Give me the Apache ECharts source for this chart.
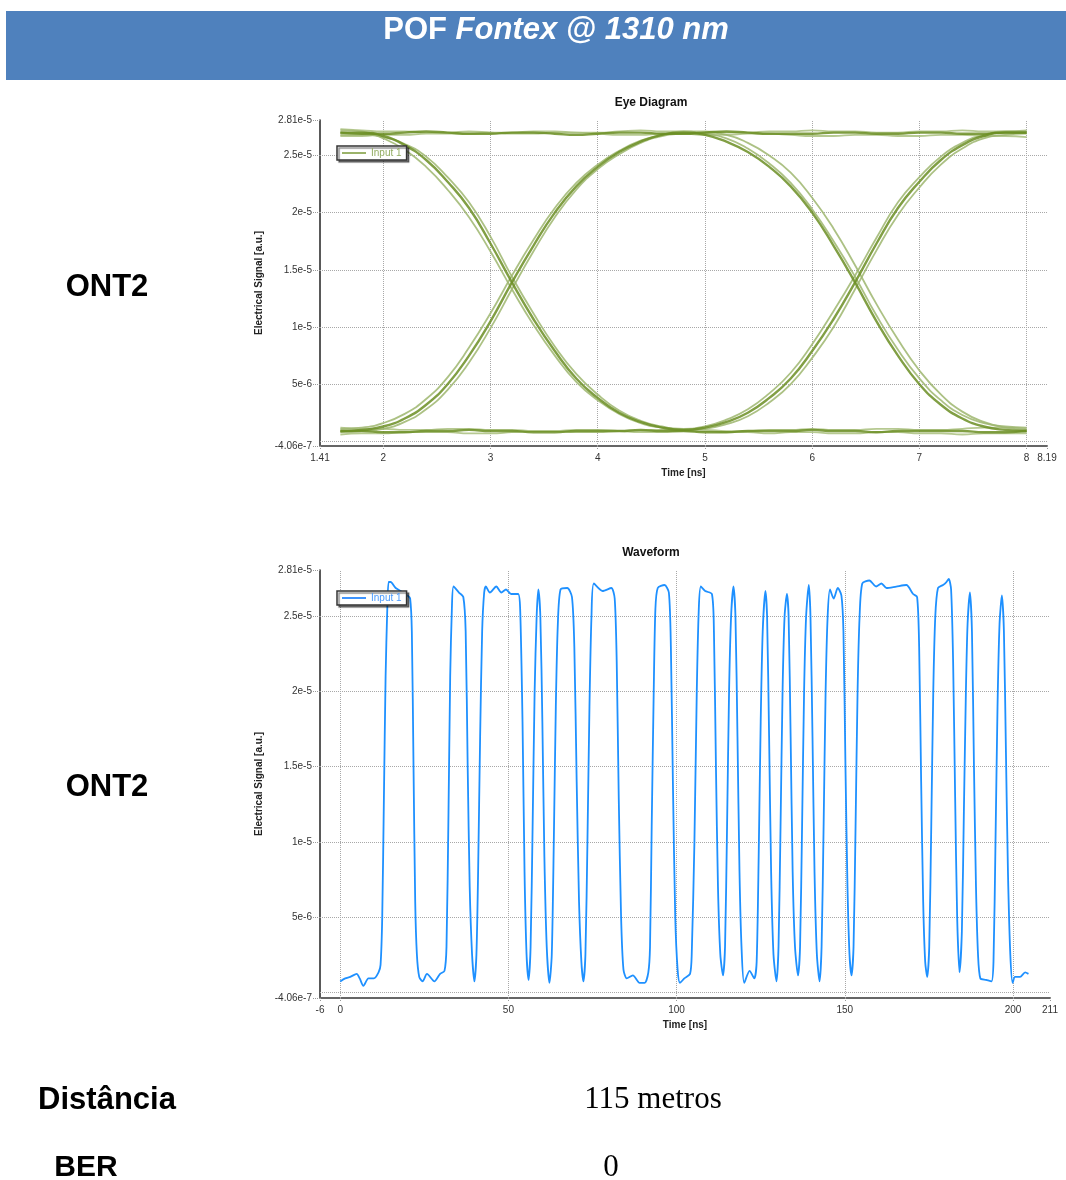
<!DOCTYPE html>
<html><head><meta charset="utf-8">
<script src="https://cdn.jsdelivr.net/npm/echarts@6/dist/echarts.min.js"></script>
<style>html,body{margin:0;padding:0;background:#fff;}#c{width:1066px;height:1180px;}</style>
</head><body><div id="c"></div>
<script>
// ---------- values (signal in units of 1e-6 a.u.) ----------
const eyeTime = [1.6,1.8,2.0,2.2,2.4,2.6,2.8,3.0,3.2,3.4,3.6,3.8,4.0,4.2,4.4,4.6,4.8,5.0,5.2,5.4,5.6,5.8,6.0,6.2,6.4,6.6,6.8,7.0,7.2,7.4,7.6,7.8,8.0];
const eyeHighA = [27.0,26.9,26.9,27.0,27.1,27.0,26.9,26.9,27.0,27.0,26.9,26.8,26.9,27.0,27.0,26.9,26.9,27.0,27.1,27.0,26.9,26.9,26.9,27.0,27.0,26.9,26.9,27.0,27.0,26.9,26.9,27.0,27.0];
const eyeHighB = [27.3,27.2,27.1,27.1,27.0,27.0,27.1,27.0,26.9,26.9,27.0,27.0,26.9,26.8,26.8,26.9,26.9,26.8,26.8,26.9,26.9,26.8,26.7,26.7,26.8,26.8,26.7,26.7,26.8,26.8,26.7,26.7,26.6];
const eyeHighC = [26.7,26.7,26.8,26.8,26.9,26.9,26.9,27.0,27.0,27.1,27.1,27.0,27.0,27.1,27.2,27.1,27.1,27.1,27.0,27.0,27.1,27.1,27.2,27.1,27.1,27.0,27.0,27.1,27.1,27.2,27.1,27.1,27.2];
const eyeLowA = [0.9,0.9,0.8,0.8,0.9,0.9,1.0,0.9,0.9,0.8,0.8,0.9,0.9,0.9,1.0,0.9,0.9,0.8,0.8,0.9,0.9,0.9,1.0,0.9,0.9,0.8,0.9,0.9,0.9,0.9,0.8,0.8,0.9];
const eyeLowB = [0.6,0.7,0.7,0.8,0.8,0.8,0.7,0.7,0.8,0.9,0.9,0.8,0.8,0.9,0.9,1.0,1.0,1.0,0.9,0.9,1.0,1.0,1.1,1.0,1.0,1.1,1.1,1.0,1.0,1.1,1.2,1.2,1.1];
const eyeLowC = [1.2,1.1,1.1,1.0,1.0,1.1,1.1,1.0,1.0,0.9,0.9,1.0,1.0,0.9,0.8,0.8,0.9,0.9,0.8,0.8,0.7,0.8,0.8,0.7,0.7,0.8,0.8,0.7,0.7,0.6,0.7,0.7,0.7];
const eyeFallRiseA = [27.0,27.0,26.7,25.9,24.6,22.7,20.4,17.3,13.9,10.7,7.9,5.5,3.8,2.5,1.7,1.2,1.0,1.2,1.7,2.5,3.8,5.5,7.9,10.7,13.9,17.3,20.4,22.7,24.6,25.9,26.7,27.0,27.0];
const eyeFallRiseB = [27.2,27.1,26.5,25.5,24.0,22.0,19.6,16.6,13.3,10.2,7.5,5.2,3.6,2.4,1.6,1.2,1.1,1.3,1.9,2.8,4.2,6.0,8.5,11.4,14.5,17.8,20.9,23.1,24.9,26.1,26.8,27.1,27.1];
const eyeFallRiseC = [26.8,26.8,26.6,26.0,24.9,23.1,20.9,17.9,14.4,11.2,8.3,5.9,4.1,2.7,1.8,1.3,1.0,1.1,1.5,2.2,3.4,5.0,7.3,10.0,13.3,16.7,19.8,22.2,24.2,25.6,26.5,26.8,26.9];
const eyeRiseFallA = [0.9,1.0,1.3,2.0,3.2,5.0,7.5,10.5,13.9,17.1,20.0,22.3,24.0,25.3,26.2,26.8,27.0,26.8,26.2,25.3,24.0,22.3,20.0,17.1,13.9,10.5,7.5,5.0,3.2,2.0,1.3,1.0,0.9];
const eyeRiseFallB = [1.1,1.2,1.6,2.4,3.7,5.6,8.2,11.2,14.5,17.6,20.4,22.6,24.2,25.4,26.3,26.8,27.1,26.9,26.5,25.6,24.3,22.6,20.3,17.5,14.4,11.0,8.0,5.5,3.6,2.3,1.6,1.3,1.2];
const eyeRiseFallC = [0.8,0.9,1.1,1.7,2.8,4.5,6.9,9.9,13.3,16.6,19.6,22.0,23.8,25.1,26.1,26.7,26.9,27.0,26.8,26.1,25.0,23.5,21.3,18.6,15.4,12.0,8.9,6.2,4.1,2.6,1.7,1.2,1.0];

// waveform: [time ns, signal 1e-6 a.u.]
const wavePoints = [
[0.0,0.7],[1.5,0.9],[3.0,1.0],[4.9,1.2],[5.8,0.9],[6.9,0.4],[8.4,0.9],[10.0,0.9],[11.4,1.3],[12.0,1.8],[12.5,5],[13.0,13],[13.5,21],[14.0,25.5],[14.4,27.3],
[15.0,27.3],[16.5,26.9],[18.0,26.7],[20.0,26.4],[20.8,26.2],[21.3,24],[21.8,15],[22.3,6],[22.8,2.5],[23.5,1.0],[24.5,0.7],[25.8,1.2],[28.0,0.7],[29.7,1.2],[31.0,1.4],
[31.6,3],[32.2,12],[32.7,21],[33.2,25.5],[33.7,27.0],[35.3,26.6],[36.6,26.3],[37.3,24],[37.9,15],[38.5,7],[39.2,2.5],[39.9,0.7],
[40.5,2.5],[41.0,8],[41.6,17],[42.2,24],[42.8,26.6],[43.3,27.0],[44.5,26.6],[46.4,27.0],[47.9,26.6],[49.3,26.8],[50.8,26.5],[52.9,26.5],
[53.5,25.5],[54.2,18],[54.8,8],[55.4,2.5],[56.0,0.8],[56.6,3],[57.2,11],[57.8,20],[58.4,25],[58.9,26.8],[59.5,25],[60.1,18],[60.7,9],[61.4,3],[62.2,0.6],
[62.9,2.5],[63.5,10],[64.1,19],[64.7,24.5],[65.5,26.8],[67.5,26.9],[68.9,26.3],[69.6,23],[70.3,14],[71.0,6],[71.7,2],[72.3,0.7],
[72.9,2.5],[73.5,10],[74.1,19],[74.7,25],[75.4,27.2],[78.0,26.7],[80.6,26.9],[81.6,26.2],[82.2,22],[82.8,13],[83.5,5],[84.2,1.5],[85.2,0.9],[87.0,1.1],[89.0,0.6],[90.5,0.6],[91.6,1.3],
[92.1,3],[92.6,11],[93.2,20],[93.7,25.5],[94.4,26.9],[96.4,27.1],[97.7,26.6],[98.3,23],[98.9,14],[99.6,5],[100.3,1.5],[101.0,0.6],[102.3,0.9],[104.0,1.2],
[104.5,2.5],[105.3,10],[106.0,20],[106.6,25.5],[107.2,27.0],[108.5,26.7],[110.5,26.5],[111.1,24],[111.7,15],[112.3,7],[113.0,2.5],[113.8,1.1],
[114.4,3],[115.0,11],[115.6,20],[116.2,25],[116.9,27.0],[117.5,25],[118.1,17],[118.7,8],[119.3,3],[120.1,0.6],[121.7,1.4],[123.1,0.9],
[123.8,2],[124.4,9],[125.0,18],[125.6,24],[126.4,26.7],[126.9,25],[127.5,17],[128.1,8],[128.8,2.5],[129.7,0.7],
[130.3,3],[130.9,11],[131.5,20],[132.1,25],[132.8,26.5],[133.3,25],[133.9,17],[134.5,8],[135.2,3],[136.1,1.1],
[136.7,3],[137.3,11],[137.9,20],[138.5,25],[139.3,27.1],[139.8,25],[140.4,17],[141.0,8],[141.7,2.5],[142.5,0.7],
[143.1,3],[143.7,11],[144.3,20],[144.9,25],[145.6,26.8],[146.7,26.2],[147.9,26.9],[149.0,26.4],[149.6,24],[150.2,15],[150.8,7],[151.4,2.5],[152.0,1.1],
[152.6,3],[153.2,11],[153.8,20],[154.4,25],[155.2,27.2],[157.3,27.4],[159.3,27.0],[160.9,27.2],[162.4,26.9],[165.3,27.0],[168.3,27.1],[170.3,26.5],[171.5,26.3],
[172.1,23],[172.7,14],[173.3,6],[173.9,2],[174.5,1.0],[175.1,3],[175.7,11],[176.3,20],[176.9,25],[177.7,26.9],[179.2,27.1],[180.2,27.3],[180.9,27.5],
[181.6,26.8],[182.2,22],[182.8,13],[183.4,5],[184.1,1.3],[184.8,4],[185.4,12],[186.0,20],[186.5,24.5],[187.2,26.6],
[187.8,24],[188.4,15],[189.0,7],[189.6,2.5],[190.3,0.9],[192.0,0.8],[193.6,0.7],[194.2,2],[194.8,10],[195.4,19],[196.0,24.5],[196.7,26.4],
[197.3,24],[197.9,16],[198.5,8],[199.2,2.5],[199.9,0.6],[200.6,1.0],[202.1,1.0],[203.6,1.3],[204.6,1.2]
];

// axis ticks
const yTickVals = [-0.406, 5, 10, 15, 20, 25, 28.1];
const yTickLabels = ['-4.06e-7', '5e-6', '1e-5', '1.5e-5', '2e-5', '2.5e-5', '2.81e-5'];
const yGridVals = [0, 5, 10, 15, 20, 25];
const eyeXTickVals = [1.41, 2, 3, 4, 5, 6, 7, 8, 8.19];
const eyeXTickLabels = ['1.41', '2', '3', '4', '5', '6', '7', '8', '8.19'];
const eyeXGridVals = [2, 3, 4, 5, 6, 7, 8];
const waveXTickVals = [-6, 0, 50, 100, 150, 200, 211];
const waveXTickLabels = ['-6', '0', '50', '100', '150', '200', '211'];
const waveXGridVals = [0, 50, 100, 150, 200];

// ---------- chart ----------
const SANS = '"Liberation Sans", Arial, Helvetica, sans-serif';
const SERIF = '"Liberation Serif", "Times New Roman", serif';
const chart = echarts.init(document.getElementById('c'), null, {renderer: 'canvas'});

function lookup(vals, labels) {
  return function (v) {
    for (let i = 0; i < vals.length; i++) if (Math.abs(vals[i] - v) < 1e-6) return labels[i];
    return '';
  };
}
function xAxisCfg(gi, min, max, vals, labels) {
  return {
    type: 'value', gridIndex: gi, min: min, max: max,
    name: 'Time [ns]', nameLocation: 'middle', nameGap: 22,
    nameTextStyle: {fontFamily: SANS, fontSize: 10, fontWeight: 'bold', color: '#222'},
    axisLine: {show: true, onZero: false, lineStyle: {color: '#666', width: 2}},
    axisTick: {show: true, customValues: vals, length: 4, lineStyle: {color: '#999', type: 'dotted'}},
    axisLabel: {customValues: vals, formatter: lookup(vals, labels), fontFamily: SANS, fontSize: 10, color: '#333', margin: 7},
    splitLine: {show: false}
  };
}
function yAxisCfg(gi) {
  return {
    type: 'value', gridIndex: gi, min: yTickVals[0], max: yTickVals[yTickVals.length - 1],
    name: 'Electrical Signal [a.u.]', nameLocation: 'middle', nameGap: 55, nameRotate: 90,
    nameTextStyle: {fontFamily: SANS, fontSize: 10, fontWeight: 'bold', color: '#222'},
    axisLine: {show: true, onZero: false, lineStyle: {color: '#222', width: 1.5}},
    axisTick: {show: true, customValues: yTickVals, length: 7, lineStyle: {color: '#999', type: 'dotted'}},
    axisLabel: {customValues: yTickVals, formatter: lookup(yTickVals, yTickLabels), fontFamily: SANS, fontSize: 10, color: '#333', margin: 8},
    splitLine: {show: false}
  };
}
function gridLines(xi, yi, xVals) {
  return {
    type: 'line', xAxisIndex: xi, yAxisIndex: yi, data: [], silent: true, z: 1,
    markLine: {
      silent: true, symbol: 'none', z: 1, animation: false,
      label: {show: false},
      lineStyle: {color: '#a8a8a8', type: 'dotted', width: 1},
      data: yGridVals.map(v => ({yAxis: v})).concat(xVals.map(v => ({xAxis: v})))
    }
  };
}

const eyeTraces = [
  {d: eyeHighB, c: '#a9c07e', w: 1.8}, {d: eyeHighC, c: '#a9c07e', w: 1.8},
  {d: eyeLowB, c: '#a9c07e', w: 1.8}, {d: eyeLowC, c: '#a9c07e', w: 1.8},
  {d: eyeFallRiseB, c: '#9db66e', w: 1.8}, {d: eyeFallRiseC, c: '#9db66e', w: 1.8},
  {d: eyeRiseFallB, c: '#9db66e', w: 1.8}, {d: eyeRiseFallC, c: '#9db66e', w: 1.8},
  {d: eyeHighA, c: '#6b8e23', w: 2.4}, {d: eyeLowA, c: '#6b8e23', w: 2.4},
  {d: eyeFallRiseA, c: '#6b8e23', w: 2.4}, {d: eyeRiseFallA, c: '#6b8e23', w: 2.4}
];

const series = [gridLines(0, 0, eyeXGridVals), gridLines(1, 1, waveXGridVals)];
eyeTraces.forEach(function (t, i) {
  series.push({
    name: 'Input 1', type: 'line', xAxisIndex: 0, yAxisIndex: 0, z: 3,
    data: eyeTime.map((x, k) => [x, t.d[k]]),
    symbol: 'none', smooth: 0.5, color: '#6b8e23',
    lineStyle: {color: t.c, width: t.w, opacity: 0.85}
  });
});
series.push({
  name: 'Input 1 (waveform)', type: 'line', xAxisIndex: 1, yAxisIndex: 1, z: 3,
  data: wavePoints, symbol: 'none', smooth: 0.25, color: '#1e90ff',
  lineStyle: {color: '#1e90ff', width: 1.8}
});

function legendCfg(top, name, lineColor, textColor) {
  return {
    left: 337, top: top, selectedMode: false,
    data: [{name: name, icon: 'rect', itemStyle: {color: lineColor}}],
    formatter: () => 'Input 1',
    backgroundColor: '#fff', borderColor: '#333', borderWidth: 1.5, borderRadius: 0,
    padding: [1, 5, 1, 5], itemWidth: 24, itemHeight: 2, itemGap: 4,
    shadowColor: 'rgba(0,0,0,0.45)', shadowOffsetX: 2, shadowOffsetY: 2, shadowBlur: 1,
    textStyle: {color: textColor, fontFamily: SANS, fontSize: 10, lineHeight: 12}
  };
}

function txt(x, y, s, size, weight, family, color, align) {
  return {type: 'text', x: x, y: y, silent: true, style: {
    text: s, fontSize: size, fontWeight: weight, fontFamily: family, fill: color,
    textAlign: align || 'center', align: align || 'center', textVerticalAlign: 'middle', verticalAlign: 'middle'}};
}

chart.setOption({
  animation: false,
  backgroundColor: '#fff',
  grid: [
    {left: 320, top: 120, width: 727, height: 326, containLabel: false},
    {left: 320, top: 570, width: 730, height: 428, containLabel: false}
  ],
  xAxis: [
    xAxisCfg(0, eyeXTickVals[0], eyeXTickVals[eyeXTickVals.length - 1], eyeXTickVals, eyeXTickLabels),
    xAxisCfg(1, waveXTickVals[0], waveXTickVals[waveXTickVals.length - 1], waveXTickVals, waveXTickLabels)
  ],
  yAxis: [yAxisCfg(0), yAxisCfg(1)],
  legend: [legendCfg(146, 'Input 1', '#9bb36a', '#93ad62'), legendCfg(591, 'Input 1 (waveform)', '#3d94ff', '#4a9bff')],
  series: series,
  graphic: [
    {type: 'rect', shape: {x: 6, y: 11, width: 1060, height: 69}, style: {fill: '#4f81bd'}, silent: true},
    {type: 'text', x: 556, y: 30, silent: true, style: {
      text: '{a|POF }{b|Fontex @ 1310 nm}', textAlign: 'center', align: 'center', textVerticalAlign: 'middle', verticalAlign: 'middle',
      rich: {
        a: {fontSize: 31, fontWeight: 'bold', fontFamily: SANS, fill: '#fff', color: '#fff'},
        b: {fontSize: 31, fontWeight: 'bold', fontStyle: 'italic', fontFamily: SANS, fill: '#fff', color: '#fff'}
      }}},
    txt(651, 103, 'Eye Diagram', 12, 'bold', SANS, '#111'),
    txt(651, 553, 'Waveform', 12, 'bold', SANS, '#111'),
    txt(107, 287, 'ONT2', 31, 'bold', SANS, '#000'),
    txt(107, 787, 'ONT2', 31, 'bold', SANS, '#000'),
    txt(107, 1100, 'Distância', 31, 'bold', SANS, '#000'),
    txt(86, 1168, 'BER', 30, 'bold', SANS, '#000'),
    txt(653, 1100, '115 metros', 31, 'normal', SERIF, '#000'),
    txt(611, 1168, '0', 31, 'normal', SERIF, '#000')
  ]
});
</script>
</body></html>
